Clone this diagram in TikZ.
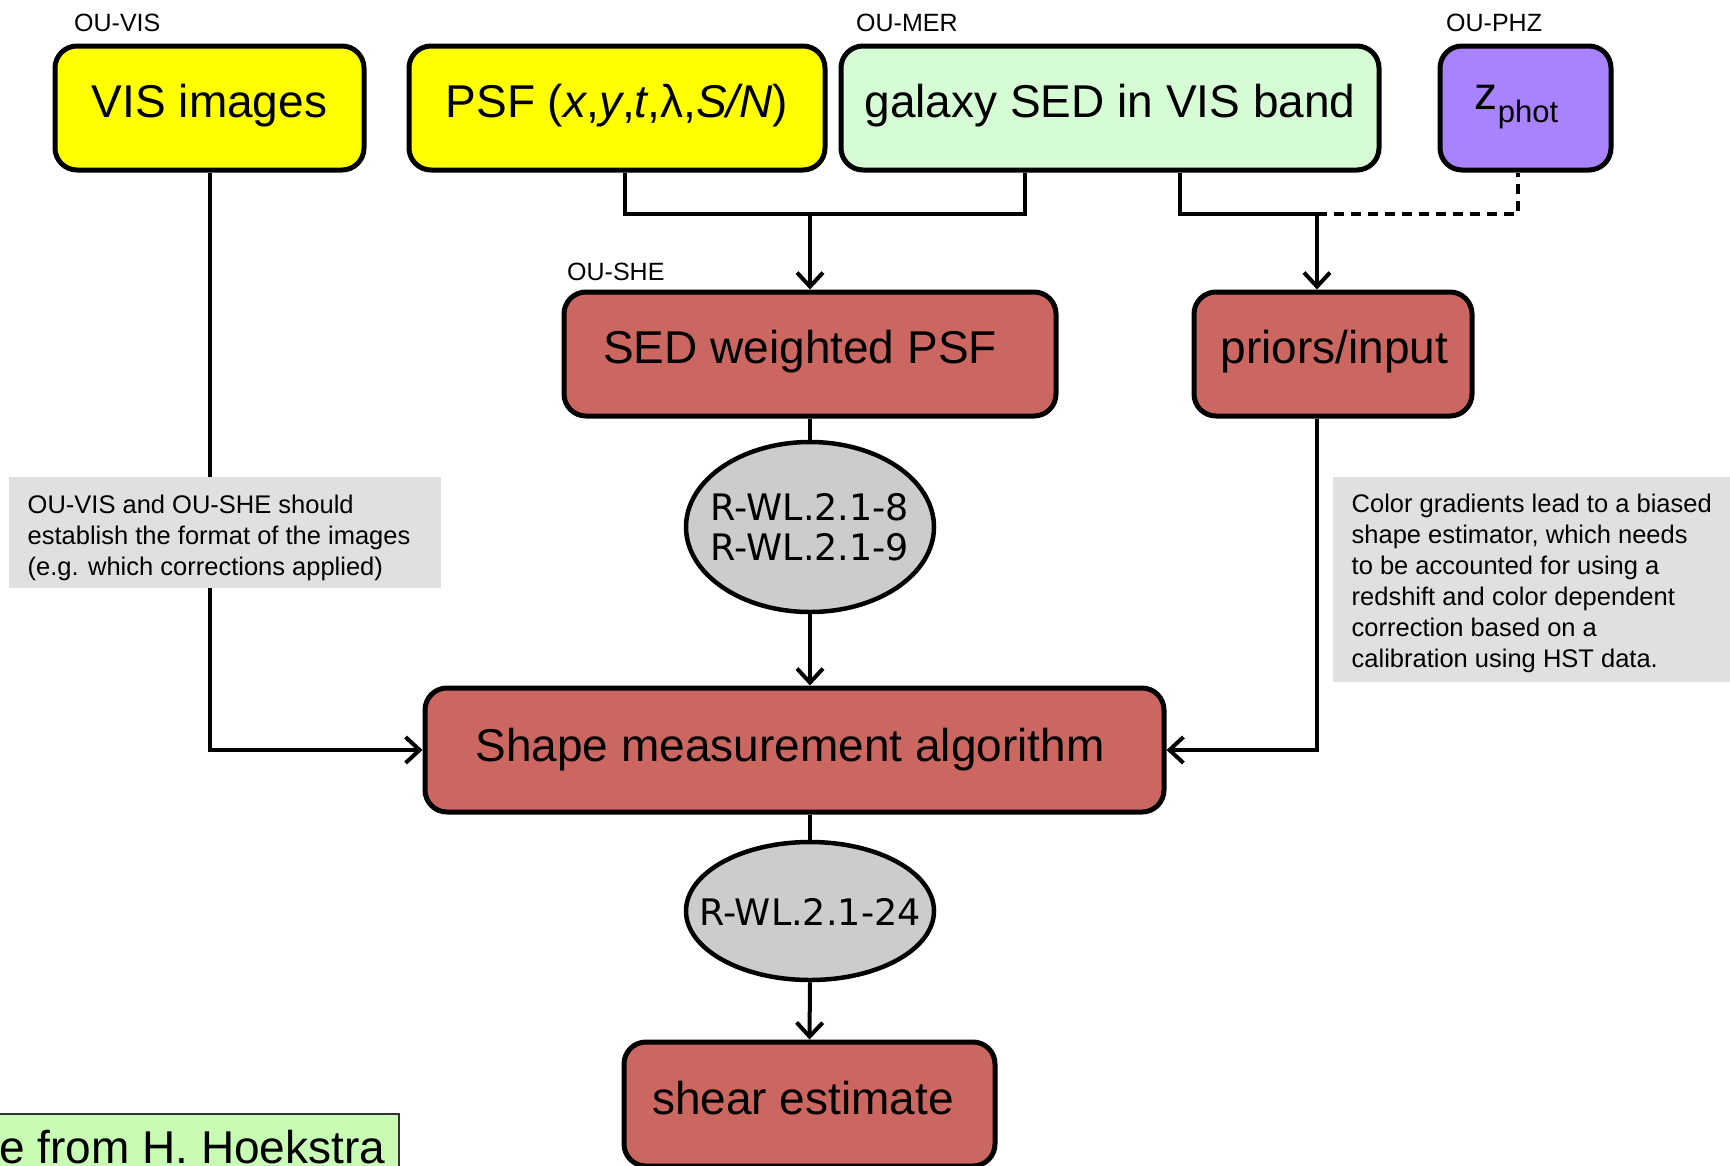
\documentclass[tikz,border=0pt]{standalone}
\usepackage{fontspec}
\setmainfont{Liberation Sans}
\newfontfamily\verdanalike{DejaVu Sans}
\usetikzlibrary{arrows.meta,shapes.geometric}

\definecolor{boxyellow}{HTML}{FFFF00}
\definecolor{boxmint}{HTML}{D5FCD5}
\definecolor{boxviolet}{HTML}{A983FD}
\definecolor{boxred}{HTML}{CC6660}
\definecolor{reqgray}{HTML}{CCCCCC}
\definecolor{notegray}{HTML}{E0E0E0}
\definecolor{creditgreen}{HTML}{C8FCB4}

\tikzset{
  unitbox/.style={draw=black, line width=5pt, rounded corners=22pt,
    inner sep=0pt, minimum height=124pt},
  boxtext/.style={inner sep=0pt, font=\fontsize{46}{50}\selectfont},
  reqellipse/.style={ellipse, draw=black, line width=4.5pt, fill=reqgray,
    inner sep=0pt},
  reqtext/.style={inner sep=0pt, align=center,
    font=\verdanalike\fontsize{36.5}{40}\selectfont},
  oulabel/.style={anchor=west, inner sep=0pt, font=\fontsize{25}{28}\selectfont},
  notetext/.style={anchor=west, inner sep=0pt, align=left,
    font=\fontsize{25.5}{31}\selectfont},
  conn/.style={line width=4pt},
  arrowconn/.style={line width=4pt, -{Straight Barb[length=14pt,width=26pt]}},
  dashconn/.style={line width=4pt, dash pattern=on 10pt off 7pt}
}

\begin{document}
\begin{tikzpicture}[x=1pt,y=-1pt]
\useasboundingbox (0,0) rectangle (1730,1165);

% unit labels
\node[oulabel] (lvis) at (74,23) {OU-VIS};
\node[oulabel] (lmer) at (856,23) {OU-MER};
\node[oulabel] (lphz) at (1446,23) {OU-PHZ};
\node[oulabel] (lshe) at (567,272) {OU-SHE};

% input products
\node[unitbox, fill=boxyellow, minimum width=309pt] (vis) at (209.5,108) {};
\node[boxtext] (tvis) at ([yshift=2.2pt]vis.center) {VIS images};
\node[unitbox, fill=boxyellow, minimum width=416pt] (psf) at (617,108) {};
\node[boxtext] (tpsf) at ([yshift=2.2pt]psf.center)
  {PSF (\textit{x},\textit{y},\textit{t},λ,\textit{S/N})};
\node[unitbox, fill=boxmint, minimum width=538pt] (gal) at (1110,108) {};
\node[boxtext] (tgal) at ([yshift=2.2pt]gal.center) {galaxy SED in VIS band};
\node[unitbox, fill=boxviolet, minimum width=171pt] (zp) at (1525.5,108) {};
\node[boxtext] (tzp) at ([xshift=-9pt,yshift=1pt]zp.center)
  {z\raisebox{-13pt}{\fontsize{31}{34}\selectfont phot}};

% shear pipeline
\node[unitbox, fill=boxred, minimum width=492pt] (sed) at (810,354) {};
\node[boxtext] (tsed) at ([xshift=-10pt,yshift=2.2pt]sed.center) {SED weighted PSF};
\node[unitbox, fill=boxred, minimum width=278pt] (pri) at (1333,354) {};
\node[boxtext] (tpri) at ([xshift=1.5pt,yshift=2.2pt]pri.center) {priors/input};
\node[reqellipse, minimum width=248pt, minimum height=170pt] (e1) at (810,527) {};
\node[reqtext] (te1) at (e1.center) {R-WL.2.1-8\\R-WL.2.1-9};
\node[unitbox, fill=boxred, minimum width=739pt] (shape) at (794.5,750) {};
\node[boxtext] (tshape) at ([xshift=-4.5pt]shape.center) {Shape measurement algorithm};
\node[reqellipse, minimum width=248pt, minimum height=138pt] (e2) at (810,911) {};
\node[reqtext] (te2) at ([yshift=-1pt]e2.center) {R-WL.2.1-24};
\node[unitbox, fill=boxred, minimum width=371pt] (shear) at (809.5,1104) {};
\node[boxtext] (tshear) at ([xshift=-6.5pt,yshift=5.5pt]shear.center) {shear estimate};

% connectors
\coordinate (j1) at (810,214);
\coordinate (j2) at (1317,214);
\draw[conn] ([xshift=7.5pt]psf.south) |- (j1) -| ([xshift=-85pt]gal.south);
\draw[arrowconn] (j1) -- (sed.north);
\draw[conn] ([xshift=69.5pt]gal.south) |- (j2);
\draw[dashconn] (j2) -| ([xshift=-7.5pt]zp.south);
\draw[arrowconn] (j2) -- (j2 |- pri.north);
\draw[arrowconn] (vis.south) |- (shape.west);
\draw[arrowconn] ([xshift=-16pt]pri.south) |- (shape.east);
\draw[conn] (sed.south) -- (e1.north);
\draw[arrowconn] (e1.south) -- (e1.south |- shape.north);
\draw[conn] (e2.north |- shape.south) -- (e2.north);
\draw[arrowconn] (e2.south) -- (shear.north);

% notes
\fill[notegray] (9,477) rectangle (441,588);
\node[notetext] (nvis) at (27.5,537.5)
  {OU-VIS and OU-SHE should\\establish the format of the images\\(e.g. which corrections applied)};
\fill[notegray] (1333,477) rectangle (1740,682);
\node[notetext] (ncol) at (1351.5,583.5)
  {Color gradients lead to a biased\\shape estimator, which needs\\to be accounted for using a\\redshift and color dependent\\correction based on a\\calibration using HST data.};

% credit
\draw[fill=creditgreen, draw=black!80, line width=1.5pt] (-10,1114) rectangle (399,1180);
\node[anchor=base west, inner sep=0pt, font=\fontsize{46}{50}\selectfont] (credit) at (-1,1163)
  {e from H. Hoekstra};
\end{tikzpicture}
\end{document}
